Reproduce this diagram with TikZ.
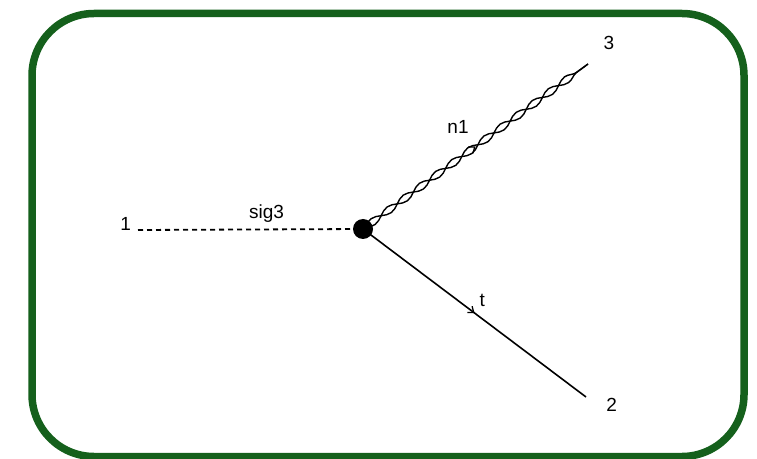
\documentclass[tikz,border=0pt]{standalone}
\usepackage{fontspec}
\setmainfont{Liberation Sans}
\usetikzlibrary{decorations.pathmorphing,decorations.markings,arrows.meta}
\definecolor{framegreen}{RGB}{21,96,28}
\tikzset{
  lbl/.style={font=\fontsize{19pt}{22pt}\selectfont, inner sep=0pt, anchor=base},
  vertexdot/.style={circle, fill=black, inner sep=0pt, minimum size=20pt},
  scalarline/.style={line width=1.8pt, dash pattern=on 5pt off 4pt},
  midarrow/.style={postaction={decorate},
    decoration={markings, mark=at position 0.5 with {\arrow{Straight Barb[length=5pt,width=8pt,line width=1.3pt]}}}},
  fermionline/.style={line width=1.6pt, midarrow},
  wavea/.style={line width=1.4pt, decorate, decoration={snake, amplitude=3.5pt, segment length=40pt}},
  waveb/.style={line width=1.4pt, decorate, decoration={snake, amplitude=3.5pt, segment length=40pt, mirror}},
}
\begin{document}
\begin{tikzpicture}[x=1pt,y=1pt]
\useasboundingbox (0,0) rectangle (757,458);
\draw[framegreen, line width=7.5pt, rounded corners=62pt] (32,1.5) rectangle (744,444.5);

\coordinate (e1) at (138,228);
\coordinate (e3) at (588,394);
\coordinate (e2) at (586,61);
\coordinate (v) at (363,229);

\node[lbl] (l1) at (125.7,227.3) {1};
\node[lbl] (l3) at (609,408) {3};
\node[lbl] (l2) at (611.7,46.3) {2};
\node[lbl] (lsig) at (266.5,239) {sig3};
\node[lbl] (ln1) at (458,324.7) {n1};
\node[lbl] (lt) at (482.3,151.3) {t};

\draw[scalarline] (e1) -- (v);
\draw[wavea] (v) -- (e3);
\draw[waveb] (v) -- (e3);
\path[midarrow] (v) -- (e3);
\draw[fermionline] (v) -- (e2);
\node[vertexdot] (vd) at (v) {};
\end{tikzpicture}
\end{document}
